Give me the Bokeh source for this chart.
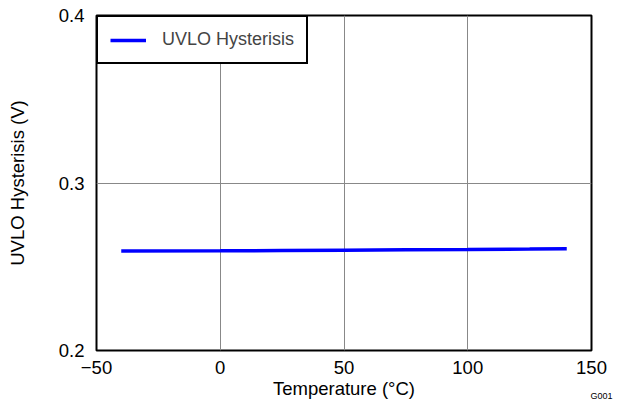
from bokeh.plotting import figure
from bokeh.models import FixedTicker, Legend, LegendItem, Title, Range1d
from bokeh.embed import file_html
from bokeh.resources import INLINE

temperature = [-40, 0, 25, 50, 75, 100, 125, 140]
uvlo_hyst = [0.2594, 0.2595, 0.2597, 0.2599, 0.2601, 0.2603, 0.2606, 0.2608]
x_ticks = [-50, 0, 50, 100, 150]
y_ticks = [0.2, 0.3, 0.4]

FONT = "Liberation Sans"
FS = "18.5px"

p = figure(width=623, height=407, output_backend="svg", toolbar_location=None,
           x_range=Range1d(-50, 150), y_range=Range1d(0.2, 0.4))
p.min_border_left = 96
p.min_border_right = 32
p.min_border_top = 15
p.min_border_bottom = 57

r = p.line(temperature, uvlo_hyst, line_color="#0000FF", line_width=3.5)

p.outline_line_color = "black"
p.outline_line_width = 2
p.outline_line_alpha = 1

p.xaxis.ticker = FixedTicker(ticks=x_ticks)
p.yaxis.ticker = FixedTicker(ticks=y_ticks)
p.xaxis.major_label_overrides = {-50: "\u221250"}

for ax in (p.xaxis[0], p.yaxis[0]):
    ax.axis_line_color = None
    ax.major_tick_line_color = None
    ax.minor_tick_line_color = None
    ax.major_tick_out = 0
    ax.major_tick_in = 0
    ax.minor_tick_out = 0
    ax.major_label_text_font = FONT
    ax.major_label_text_font_size = FS
    ax.major_label_text_color = "black"
    ax.axis_label_text_font = FONT
    ax.axis_label_text_font_size = FS
    ax.axis_label_text_font_style = "normal"
    ax.axis_label_text_color = "black"

p.xaxis.axis_label = "Temperature (\u00b0C)"
p.yaxis.axis_label = "UVLO Hysterisis (V)"
p.xaxis.major_label_standoff = 10
p.xaxis.axis_label_standoff = 1
p.yaxis.major_label_standoff = 12
p.yaxis.axis_label_standoff = 28

p.xgrid.grid_line_color = "#888888"
p.ygrid.grid_line_color = "#888888"
p.xgrid.grid_line_width = 1
p.ygrid.grid_line_width = 1

legend = Legend(items=[LegendItem(label="UVLO Hysterisis", renderers=[r])],
                location="top_left", margin=0, padding=12,
                border_line_color="black", border_line_width=2, border_line_alpha=1,
                label_text_font=FONT, label_text_font_size="18px",
                glyph_width=36, label_standoff=16, background_fill_alpha=1)
p.add_layout(legend, "center")

p.add_layout(Title(text="G001", align="right", vertical_align="top",
                   text_font=FONT, text_font_size="9px",
                   text_font_style="normal", text_color="black",
                   standoff=-22, offset=-21), "below")

open("out.html", "w").write(file_html(p, INLINE))
